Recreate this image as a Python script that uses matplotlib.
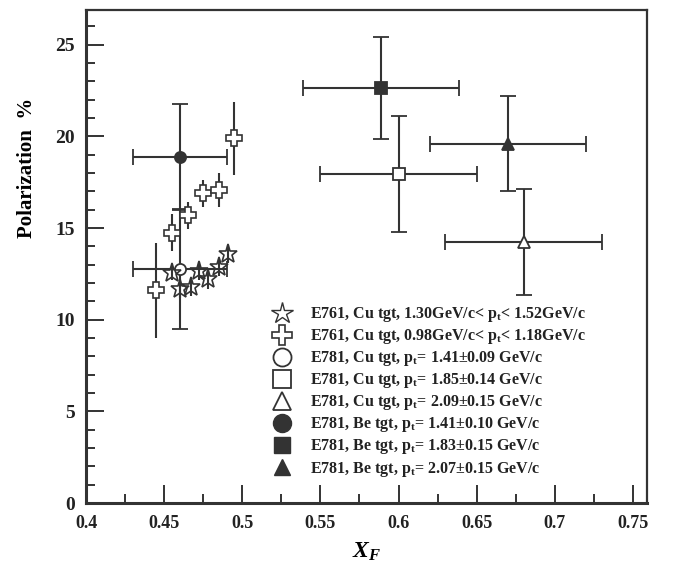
import matplotlib
matplotlib.use('Agg')
import matplotlib.pyplot as plt
from matplotlib.lines import Line2D

plt.rcParams['font.family'] = ['Liberation Serif', 'DejaVu Serif']
plt.rcParams['font.weight'] = 'bold'
plt.rcParams['axes.labelweight'] = 'bold'
plt.rcParams['mathtext.fontset'] = 'custom'
plt.rcParams['mathtext.rm'] = 'Liberation Serif:bold'
plt.rcParams['mathtext.bf'] = 'Liberation Serif:bold'
plt.rcParams['mathtext.it'] = 'Liberation Serif:italic:bold'

ink = '#333333'

# E761, Cu tgt, 1.30 < pt < 1.52 (stars)
star_x = [0.455, 0.460, 0.467, 0.4725, 0.478, 0.485, 0.491]
star_y = [12.55, 11.7, 11.8, 12.65, 12.2, 12.85, 13.6]
star_err = [0.4, 0.5, 0.5, 0.5, 0.5, 0.45, 0.5]

# E761, Cu tgt, 0.98 < pt < 1.18 (crosses)
cross_x = [0.445, 0.455, 0.465, 0.475, 0.485, 0.495]
cross_y = [11.6, 14.75, 15.7, 16.9, 17.1, 19.9]
cross_err = [2.6, 1.0, 0.73, 0.75, 0.93, 2.0]

# E781 points: open = Cu tgt, filled = Be tgt
e781_x = [0.46, 0.60, 0.68, 0.46, 0.589, 0.67]
e781_y = [12.77, 17.96, 14.25, 18.87, 22.64, 19.6]
e781_xerr = [0.03, 0.05, 0.05, 0.03, 0.05, 0.05]
e781_yerr = [3.25, 3.17, 2.9, 2.9, 2.8, 2.6]
e781_marker = ['o', 's', '^', 'o', 's', '^']
e781_filled = [False, False, False, True, True, True]

labels = [
    r'E761, Cu tgt, 1.30GeV/c< p$_\mathrm{t}$< 1.52GeV/c',
    r'E761, Cu tgt, 0.98GeV/c< p$_\mathrm{t}$< 1.18GeV/c',
    r'E781, Cu tgt, p$_\mathrm{t}$= 1.41±0.09 GeV/c',
    r'E781, Cu tgt, p$_\mathrm{t}$= 1.85±0.14 GeV/c',
    r'E781, Cu tgt, p$_\mathrm{t}$= 2.09±0.15 GeV/c',
    r'E781, Be tgt, p$_\mathrm{t}$= 1.41±0.10 GeV/c',
    r'E781, Be tgt, p$_\mathrm{t}$= 1.83±0.15 GeV/c',
    r'E781, Be tgt, p$_\mathrm{t}$= 2.07±0.15 GeV/c',
]

fig = plt.figure(figsize=(6.73, 5.68), dpi=100)
ax = fig.add_axes([86/673, 65/568, 561/673, 493/568])

for i in range(len(e781_x)):
    ax.errorbar(e781_x[i], e781_y[i], xerr=e781_xerr[i], yerr=e781_yerr[i],
                fmt=e781_marker[i], color=ink, ecolor=ink, elinewidth=1.5,
                capsize=6, capthick=1.5, markersize=8,
                markerfacecolor=ink if e781_filled[i] else 'white',
                markeredgecolor=ink, markeredgewidth=1.3, zorder=3)

ax.errorbar(cross_x, cross_y, yerr=cross_err, fmt='P', color=ink, ecolor=ink,
            elinewidth=1.5, capsize=0, markersize=11, markerfacecolor='white',
            markeredgecolor=ink, markeredgewidth=1.2, zorder=4)
ax.errorbar(star_x, star_y, yerr=star_err, fmt='*', color=ink, ecolor=ink,
            elinewidth=1.5, capsize=0, markersize=14, markerfacecolor='none',
            markeredgecolor=ink, markeredgewidth=1.2, zorder=4)

handles = [
    Line2D([], [], ls='', marker='*', ms=16, mfc='white', mec=ink, mew=1.0),
    Line2D([], [], ls='', marker='P', ms=14, mfc='white', mec=ink, mew=1.2),
    Line2D([], [], ls='', marker='o', ms=13, mfc='white', mec=ink, mew=1.3),
    Line2D([], [], ls='', marker='s', ms=13, mfc='white', mec=ink, mew=1.3),
    Line2D([], [], ls='', marker='^', ms=13, mfc='white', mec=ink, mew=1.3),
    Line2D([], [], ls='', marker='o', ms=13, mfc=ink, mec=ink),
    Line2D([], [], ls='', marker='s', ms=12, mfc=ink, mec=ink),
    Line2D([], [], ls='', marker='^', ms=12, mfc=ink, mec=ink),
]
leg = ax.legend(handles, labels, loc='upper left', bbox_to_anchor=(0.322, 0.414),
                frameon=False, fontsize=11.5, labelspacing=0.19,
                handlelength=1.1, handletextpad=1.2, borderaxespad=0)
for t in leg.get_texts():
    t.set_color('#222222')

ax.set_xlim(0.4, 0.759)
ax.set_ylim(0, 26.9)
ax.set_xticks([0.4, 0.45, 0.5, 0.55, 0.6, 0.65, 0.7, 0.75])
ax.set_xticklabels(['0.4', '0.45', '0.5', '0.55', '0.6', '0.65', '0.7', '0.75'])
ax.set_xticks([0.425, 0.475, 0.525, 0.575, 0.625, 0.675, 0.725], minor=True)
ax.set_yticks([0, 5, 10, 15, 20, 25])
ax.set_yticks([v for v in range(27) if v % 5 != 0], minor=True)

ax.tick_params(which='both', direction='in', color=ink, width=1.4,
               labelcolor='#222222')
ax.tick_params(which='major', length=13)
ax.tick_params(which='minor', length=6.5)
ax.tick_params(axis='x', labelsize=13, pad=9)
ax.tick_params(axis='y', labelsize=14, pad=8)

for side in ['left', 'bottom']:
    ax.spines[side].set_linewidth(2.2)
for side in ['top', 'right']:
    ax.spines[side].set_linewidth(1.6)
for s in ax.spines.values():
    s.set_color(ink)

ax.set_xlabel(r'$X_F$', fontsize=17, labelpad=6)
ax.set_ylabel('Polarization  %', fontsize=15, fontweight='bold')
ax.yaxis.set_label_coords(-0.088, 0.68)

fig.savefig('out.png', dpi=100)
